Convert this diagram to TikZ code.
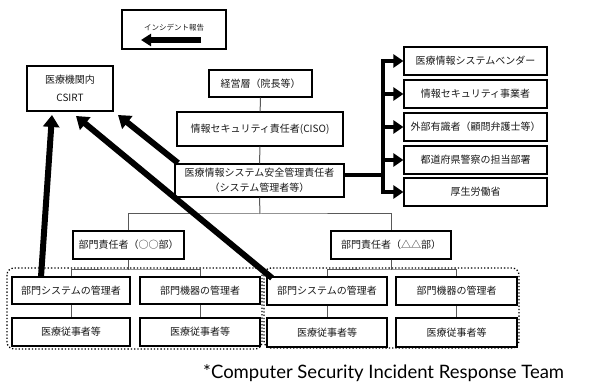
\documentclass[tikz,border=0pt]{standalone}
\usepackage{fontspec}
\setmainfont{Noto Sans CJK JP}
\newfontfamily\footfont{Lato}
\usetikzlibrary{arrows.meta,calc}
\begin{document}
\begin{tikzpicture}[x=1pt,y=-1pt,
  box/.style={draw=black,line width=1.2pt,rectangle,inner sep=0pt,align=center,
    font=\fontsize{10}{15}\selectfont,text=black!90},
  link/.style={draw=black!65,line width=1pt},
  bigarrow/.style={line width=6pt,-{Triangle[length=12pt,width=16pt]}},
  busline/.style={line width=4pt,line cap=rect},
  busarrow/.style={line width=4pt,-{Triangle[length=10pt,width=13pt]}},
  grp/.style={draw=black,dotted,line width=1.3pt,rounded corners=7pt}]
\useasboundingbox (0,0) rectangle (597,387);

% incident report legend
\node[box,minimum width=104pt,minimum height=39pt] (report) at (174,29.5) {};
\node[font=\fontsize{7.5}{9}\selectfont,text=black!90] (reporttxt) at (174,28) {インシデント報告};
\coordinate (rs) at (201,40);
\coordinate (re) at (141,40);
\draw[line width=5.5pt,-{Triangle[length=10pt,width=12pt]}] (rs) -- (re);

% CSIRT
\node[box,minimum width=86pt,minimum height=45pt] (csirt) at (70,88.5) {医療機関内\\[3pt]CSIRT};

% hierarchy
\node[box,minimum width=103pt,minimum height=27pt] (exec) at (260.5,83.5) {経営層（院長等）};
\node[box,minimum width=166pt,minimum height=34pt] (ciso) at (260,129) {情報セキュリティ責任者(CISO)};
\node[box,minimum width=169pt,minimum height=33pt,font=\fontsize{10}{14.5}\selectfont] (mgr) at (259.5,180.5) {医療情報システム安全管理責任者\\（システム管理者等）};
\draw[link] (exec) -- (ciso);
\draw[link] (ciso) -- (mgr);

% external parties
\node[box,minimum width=143pt,minimum height=28pt] (v1) at (475.5,61) {医療情報システムベンダー};
\node[box,minimum width=143pt,minimum height=28pt] (v2) at (475.5,94) {情報セキュリティ事業者};
\node[box,minimum width=143pt,minimum height=28pt] (v3) at (475.5,127) {外部有識者（顧問弁護士等）};
\node[box,minimum width=143pt,minimum height=28pt] (v4) at (475.5,160) {都道府県警察の担当部署};
\node[box,minimum width=143pt,minimum height=28pt] (v5) at (475.5,192) {厚生労働省};

\coordinate (bus) at (383,175);
\draw[busline] (mgr.east |- bus) -- (bus);
\draw[busline] (bus |- v1.west) -- (bus |- v5.west);
\foreach \v in {v1,v2,v3,v4,v5}
  \draw[busarrow] (bus |- \v.west) -- (\v.west);

% departments
\node[box,minimum width=111pt,minimum height=28pt] (dA) at (128.5,245) {部門責任者（○○部）};
\node[box,minimum width=120pt,minimum height=28pt] (dB) at (391,245) {部門責任者（△△部）};
\coordinate (j1) at (260,214);
\draw[link] (mgr.south) -- (j1);
\draw[link] (dA.north) |- (j1) -| (dB.north);

% left group
\node[box,minimum width=118pt,minimum height=27pt] (sysA) at (71,290.5) {部門システムの管理者};
\node[box,minimum width=120pt,minimum height=27pt] (devA) at (200,290.5) {部門機器の管理者};
\node[box,minimum width=118pt,minimum height=28pt] (stA1) at (71,332) {医療従事者等};
\node[box,minimum width=120pt,minimum height=28pt] (stA2) at (200,332) {医療従事者等};
\coordinate (jA) at (128.5,270);
\draw[link] (dA.south) -- (jA);
\draw[link] (sysA.north) |- (jA) -| (devA.north);
\draw[link] (sysA) -- (stA1);
\draw[link] (devA) -- (stA2);
\draw[grp] (7,268) rectangle (262,349);

% right group
\node[box,minimum width=120pt,minimum height=28pt] (sysB) at (327,291) {部門システムの管理者};
\node[box,minimum width=121pt,minimum height=28pt] (devB) at (456.5,291) {部門機器の管理者};
\node[box,minimum width=120pt,minimum height=29pt] (stB1) at (327,332.5) {医療従事者等};
\node[box,minimum width=121pt,minimum height=29pt] (stB2) at (456.5,332.5) {医療従事者等};
\coordinate (jB) at (391,270);
\draw[link] (dB.south) -- (jB);
\draw[link] (sysB.north) |- (jB) -| (devB.north);
\draw[link] (sysB) -- (stB1);
\draw[link] (devB) -- (stB2);
\draw[grp] (264,268) rectangle (519,348);

% reporting arrows to CSIRT
\coordinate (s1) at (41,277);
\coordinate (t1) at (52,115);
\coordinate (s2) at (272,278);
\coordinate (t2) at (76,116);
\coordinate (s3) at (178,163);
\coordinate (t3) at (118,115);
\draw[bigarrow] (s1) -- (t1);
\draw[bigarrow] (s2) -- (t2);
\draw[bigarrow] (s3) -- (t3);

% footnote
\node[anchor=base west,inner sep=0pt,font=\footfont\fontsize{18.5}{21}\selectfont] (foot) at (203,378) {*Computer Security Incident Response Team};
\end{tikzpicture}
\end{document}
